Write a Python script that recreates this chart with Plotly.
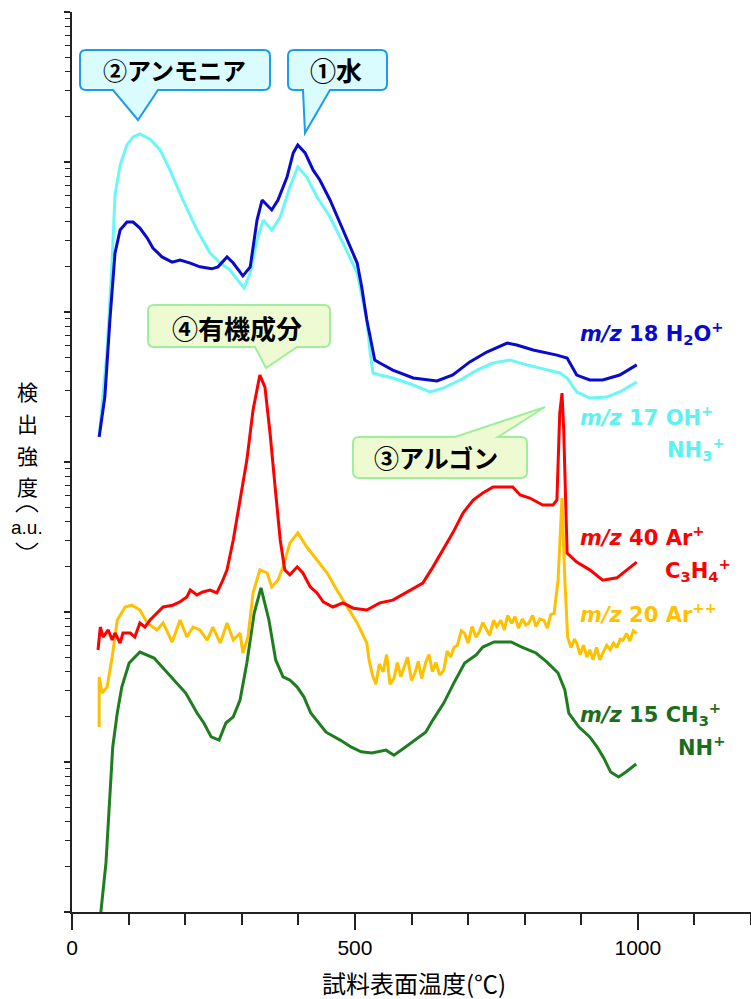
import plotly.graph_objects as go

# ---------------- data (temperature °C, intensity a.u.) ----------------
h2o_t = [48,58,67,76,85,97,108,120,133,143,159,177,191,209,226,247,258,274,285,302,315,327,336,341,353,
         364,380,391,399,412,426,438,456,479,504,512,521,527,535,544,567,603,645,673,703,733,769,786,815,857,
         875,892,915,938,968,998]
h2o_v = [1470,2710,8850,24700,35200,39800,39800,36300,31100,26700,23300,21500,22200,21200,20000,19400,20000,23300,21200,17400,
         20000,41000,55800,53300,47900,55800,79400,115000,130000,115000,88500,75900,55800,35200,21200,14700,8850,6810,4790,4570,
         4100,3630,3470,3800,4650,5410,6210,6030,5580,5160,4930,3800,3520,3520,3800,4440]

nh3_t = [48,55,62,71,76,85,97,108,120,138,156,173,196,221,244,262,279,293,304,315,327,338,353,368,385,
         399,415,433,456,479,504,521,527,532,544,567,603,633,656,686,716,744,774,804,839,862,875,892,915,945,968,998]
nh3_v = [1470,2710,5580,22200,60300,95500,130000,147000,154000,142000,120000,88500,55800,35200,24700,21200,19100,16300,14500,18200,
         30200,41000,35200,43000,68100,92700,79400,58400,43000,28800,18200,8850,5330,3920,3800,3630,3260,2930,3110,3520,
         4100,4570,4790,4440,4100,3920,3630,2930,2670,2710,2930,3410]

ar_t = [46,50,55,64,71,76,85,90,103,111,120,129,138,150,161,178,191,203,209,221,231,244,256,265,274,
        285,297,309,320,332,341,350,359,368,376,385,398,408,421,433,444,461,479,497,521,544,567,597,620,638,
        656,673,691,709,726,744,762,779,792,809,832,850,857,862,866,869,875,892,915,938,963,981,998]
ar_v = [55.8,79.4,68.1,75.9,65.0,72.4,62.1,72.4,72.4,68.1,84.5,79.4,88.5,98.4,108,111,117,126,140,130,
        136,140,134,158,191,302,558,1030,2220,3800,3160,1560,681,302,191,177,200,182,147,134,
        117,108,115,106,103,115,120,140,156,200,259,337,457,558,621,681,681,681,603,575,
        516,516,558,2120,2880,1630,247,215,191,163,169,191,215]

ar2_t = [48,48,53,62,71,80,94,106,120,133,150,161,177,191,203,214,226,239,249,262,274,285,297,302,311,
         320,332,345,353,364,373,385,399,415,433,451,468,486,504,521,
         525,531,537,543,550,556,562,569,575,581,587,593,600,606,612,618,625,631,637,643,650,657,663,669,675,
         681,688,694,700,707,714,720,726,731,738,745,751,758,764,770,777,783,789,796,802,807,814,820,827,834,840,846,852,
         859,866,871,876,882,888,892,898,904,910,915,921,927,933,939,945,951,957,963,969,974,980,986,992,998]
ar2_v = [17.1,36.9,28.8,31.6,50.1,88.5,108,111,103,84.5,75.9,84.5,63.1,88.5,68.1,79.4,75.9,65.0,79.4,62.1,84.5,65.0,72.4,53.3,68.1,
         134,191,182,147,163,200,288,337,271,222,182,140,108,84.5,62.1,
         47.9,38,33,45,40,52,33,36,46,37,43,50,35,39,47,36,46,52,40,46,38,41,55,50,58,
         60,75,72,62,80,68,74,85,79,70,88,80,88,76,95,84,93,78,90,82,84,95,80,90,88,78,96,98,
         163,575,163,68,58,66,62,52,60,50,56,48,58,48,54,60,56,62,58,66,65,72,64,75,72]

ch3_t = [50,51,60,67,72,80,88,101,120,145,164,184,201,221,233,246,260,272,285,297,309,322,334,348,360,
         373,385,398,410,422,436,449,474,493,511,530,555,569,587,606,625,638,657,675,694,714,726,746,763,776,
         795,820,839,859,871,878,896,915,928,940,952,966,979,997]
ch3_v = [0.76,1.0,2.12,5.84,12.6,21.2,31.6,45.7,54.1,49.3,41.0,33.7,28.8,21.2,18.2,14.7,14.0,18.2,20.0,25.9,
         45.7,98.4,145,88.5,47.9,36.9,35.2,31.6,27.1,21.2,18.2,15.8,14.0,12.6,11.7,11.5,12.0,11.1,12.4,14.0,
         15.8,19.1,24.7,33.7,45.7,51.6,58.4,63.1,63.1,63.1,58.4,53.3,46.5,39.2,30.2,21.2,17.1,14.7,12.6,10.6,
         8.57,7.94,8.57,9.70]

x_ticks = [0, 500, 1000]
x_tick_labels = ["0", "500", "1000"]

# ---------------- styling ----------------
W, H = 751, 999
L, R, T, B = 72, 0, 12, 87
PW, PH = W - L - R, H - T - B

C_H2O, C_NH3, C_AR, C_AR2, C_CH3 = "#0A0ACD", "#6AF7F7", "#FF0000", "#FFC000", "#1E7D1E"

def px(x, y):
    return (x - L) / PW, (H - B - y) / PH

def pts_path(cmds):
    out = []
    for cmd, xy in cmds:
        s = cmd
        for i in range(0, len(xy), 2):
            a, b = px(xy[i], xy[i + 1])
            s += f" {a:.5f},{b:.5f}"
        out.append(s)
    return " ".join(out)

fig = go.Figure()
for t, v, c in [(nh3_t, nh3_v, C_NH3), (h2o_t, h2o_v, C_H2O), (ch3_t, ch3_v, C_CH3),
                (ar2_t, ar2_v, C_AR2), (ar_t, ar_v, C_AR)]:
    fig.add_trace(go.Scatter(x=t, y=v, mode="lines", line=dict(color=c, width=3),
                             showlegend=False, hoverinfo="skip"))

def callout_path(x0, y0, x1, y1, r, side, bx0, bx1, tx, ty):
    c = [("M", (x0 + r, y0))]
    if side == "top":
        c += [("L", (bx0, y0)), ("L", (tx, ty)), ("L", (bx1, y0))]
    c += [("L", (x1 - r, y0)), ("Q", (x1, y0, x1, y0 + r)),
          ("L", (x1, y1 - r)), ("Q", (x1, y1, x1 - r, y1))]
    if side == "bottom":
        c += [("L", (bx1, y1)), ("L", (tx, ty)), ("L", (bx0, y1))]
    c += [("L", (x0 + r, y1)), ("Q", (x0, y1, x0, y1 - r)),
          ("L", (x0, y0 + r)), ("Q", (x0, y0, x0 + r, y0))]
    return pts_path(c) + " Z"

BLUE_FILL, BLUE_LINE = "#DAFCFF", "#1E9BEA"
GREEN_FILL, GREEN_LINE = "#EEFBD2", "#9EEE9E"
callouts = [
    ((80, 50, 270, 90, 6, "bottom", 113, 158, 138, 120), BLUE_FILL, BLUE_LINE, "②アンモニア", 174, 70, 24),
    ((288, 50, 387, 90, 6, "bottom", 303, 330, 305, 133), BLUE_FILL, BLUE_LINE, "①水", 336, 70, 26),
    ((148, 305, 330, 347, 6, "bottom", 255, 297, 266, 368), GREEN_FILL, GREEN_LINE, "④有機成分", 237, 327, 26),
    ((353, 437, 527, 478, 6, "top", 455, 498, 545, 407), GREEN_FILL, GREEN_LINE, "③アルゴン", 436, 457, 25),
]
shapes, annos = [], []
for geo, fc, lc, txt, tx, ty, fs in callouts:
    shapes.append(dict(type="path", xref="paper", yref="paper", path=callout_path(*geo),
                       fillcolor=fc, line=dict(color=lc, width=2), layer="above"))
    a, b = px(tx, ty)
    annos.append(dict(x=a, y=b, xref="paper", yref="paper", text=f"<b>{txt}</b>", showarrow=False,
                      xanchor="center", yanchor="middle",
                      font=dict(family="Noto Sans CJK JP", size=fs, color="black")))

LBL = "DejaVu Sans, Liberation Sans, Arial, sans-serif"
CY_TXT, GR_TXT = "#5CF2F2", "#1B6E1B"
labels = [
    ("<b><i>m/z</i> 18 H<sub>2</sub>O<sup>+</sup></b>", 578, 333, "left", C_H2O),
    ("<b><i>m/z</i> 17 OH<sup>+</sup></b>", 578, 416, "left", CY_TXT),
    ("<b>NH<sub>3</sub><sup>+</sup></b>", 727, 449, "right", CY_TXT),
    ("<b><i>m/z</i> 40 Ar<sup>+</sup></b>", 578, 536, "left", C_AR),
    ("<b>C<sub>3</sub>H<sub>4</sub><sup>+</sup></b>", 733, 570, "right", C_AR),
    ("<b><i>m/z</i> 20 Ar<sup>++</sup></b>", 578, 613, "left", C_AR2),
    ("<b><i>m/z</i> 15 CH<sub>3</sub><sup>+</sup></b>", 578, 714, "left", GR_TXT),
    ("<b>NH<sup>+</sup></b>", 727, 746, "right", GR_TXT),
]
for txt, x, y, anc, col in labels:
    a, b = px(x, y)
    annos.append(dict(x=a, y=b, xref="paper", yref="paper", text=txt, showarrow=False,
                      xanchor=anc, yanchor="middle", font=dict(family=LBL, size=21, color=col)))

# y-axis title (vertical stacking)
JP = "Noto Sans CJK JP"
for ch, y, fam, sz in [("検", 391, JP, 21), ("出", 423, JP, 21), ("強", 455, JP, 21),
                       ("度", 486, JP, 21), ("a.u.", 527, "Liberation Sans, Arial", 19)]:
    a, b = px(27, y)
    annos.append(dict(x=a, y=b, xref="paper", yref="paper", text=ch, showarrow=False,
                      xanchor="center", yanchor="middle", font=dict(family=fam, size=sz, color="black")))
# vertical-form parentheses of "（a.u.）" as arcs
for cmds in ([("M", (16, 512)), ("Q", (27, 500, 38, 512))],
             [("M", (16, 543)), ("Q", (27, 555, 38, 543))]):
    shapes.append(dict(type="path", xref="paper", yref="paper", path=pts_path(cmds),
                       line=dict(color="black", width=1.5)))

a, b = px(414, 983)
annos.append(dict(x=a, y=b, xref="paper", yref="paper", text="試料表面温度(℃)", showarrow=False,
                  xanchor="center", yanchor="middle",
                  font=dict(family=JP, size=24, color="black")))

minor_y = [k * 10 ** d for d in range(6) for k in range(2, 10)]

fig.update_layout(
    width=W, height=H, margin=dict(l=L, r=R, t=T, b=B, pad=0),
    paper_bgcolor="white", plot_bgcolor="white",
    shapes=shapes, annotations=annos,
    xaxis=dict(range=[0, 1200], tickmode="array", tickvals=x_ticks, ticktext=x_tick_labels,
               ticks="outside", ticklen=16, tickwidth=1.5, tickcolor="#222",
               showline=True, linecolor="#222", linewidth=1.5, showgrid=False, zeroline=False,
               tickfont=dict(family="Liberation Sans, Arial", size=21, color="black"),
               minor=dict(dtick=100, tick0=0, ticks="outside", ticklen=11, tickwidth=1.5,
                          tickcolor="#222", showgrid=False)),
    yaxis=dict(type="log", range=[0, 6], tickmode="array", tickvals=[10 ** d for d in range(7)],
               showticklabels=False, ticks="outside", ticklen=6, tickwidth=1.5, tickcolor="#222",
               showline=True, linecolor="#222", linewidth=1.5, showgrid=False, zeroline=False,
               minor=dict(tickmode="array", tickvals=minor_y, ticks="outside", ticklen=5,
                          tickwidth=1.2, tickcolor="#222", showgrid=False)),
)

fig.write_html("out.html", config={"displayModeBar": False},
               post_script="document.body.style.margin='0';")
